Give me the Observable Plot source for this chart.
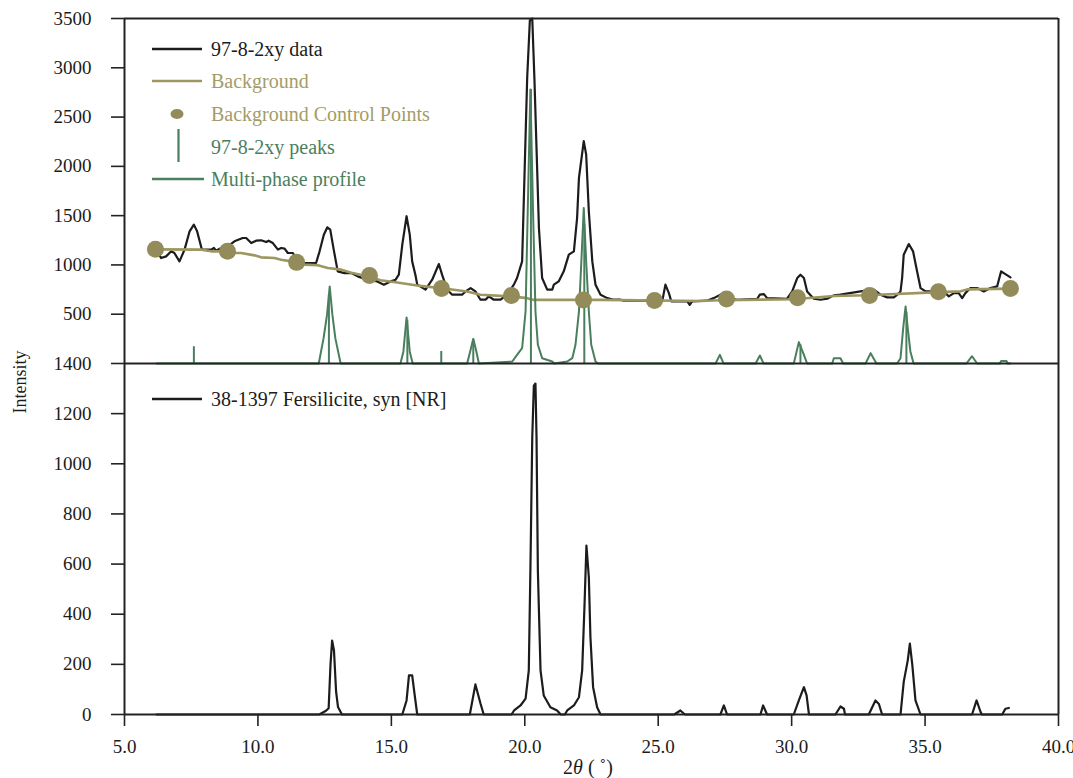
<!DOCTYPE html>
<html><head><meta charset="utf-8">
<script src="https://cdn.jsdelivr.net/npm/d3@7"></script>
<script src="https://cdn.jsdelivr.net/npm/@observablehq/plot@0.6"></script>
<style>
body{margin:0;background:#fff;}
#wrap{position:relative;width:1073px;height:778px;background:#fff;}
#wrap svg{position:absolute;left:0;top:0;overflow:visible;}
</style></head><body><div id="wrap"></div>
<script>
// ---------- data ----------
const xTicks = [5, 10, 15, 20, 25, 30, 35, 40];
const yTicksTop = [500, 1000, 1500, 2000, 2500, 3000, 3500];
const yTicksBottom = [0, 200, 400, 600, 800, 1000, 1200, 1400];

// 97-8-2xy data (observed pattern)
const dataX = [6.2,6.37,6.56,6.75,6.87,7.06,7.25,7.44,7.60,7.72,7.90,8.25,8.35,8.43,8.62,8.87,9.12,9.43,9.56,9.75,9.93,10.12,10.31,10.40,10.56,10.75,10.87,11.0,11.12,11.31,11.43,11.75,12.18,12.31,12.47,12.60,12.71,12.84,12.99,13.24,13.50,13.74,14.09,14.47,14.72,14.97,15.16,15.28,15.41,15.57,15.69,15.78,15.90,15.97,16.28,16.53,16.78,16.90,17.09,17.28,17.65,17.78,17.97,18.15,18.34,18.53,18.65,18.84,19.09,19.34,19.59,19.71,19.90,20.09,20.19,20.28,20.36,20.53,20.65,20.84,21.03,21.09,21.27,21.46,21.65,21.84,21.96,22.03,22.21,22.30,22.40,22.53,22.65,22.84,23.09,23.34,23.59,23.71,24.71,25.15,25.27,25.40,25.49,26.09,26.18,26.27,26.83,27.08,27.33,27.58,27.77,27.96,28.71,28.81,28.96,29.08,29.83,30.02,30.21,30.33,30.46,30.58,30.83,31.08,31.33,31.58,31.83,32.58,33.08,33.33,33.58,33.83,33.96,34.08,34.14,34.20,34.39,34.55,34.70,34.83,35.02,35.70,35.89,36.08,36.26,36.39,36.51,36.70,36.95,37.20,37.45,37.70,37.85,37.95,38.20];
const dataY = [1150,1070,1087,1138,1121,1036,1155,1341,1409,1341,1155,1155,1172,1145,1172,1189,1240,1273,1273,1222,1246,1250,1232,1246,1222,1155,1172,1165,1121,1121,1070,1019,1019,1138,1307,1382,1358,1155,935,917,917,884,850,833,800,833,850,901,1206,1494,1307,1036,901,800,749,850,1009,901,749,698,698,731,765,731,647,647,681,647,647,698,800,867,1036,2899,3480,3500,2899,1375,867,749,749,800,833,935,1104,1138,1476,1883,2256,2120,1544,1036,800,698,663,647,647,637,637,630,800,714,630,630,596,630,637,663,698,691,657,647,657,698,704,663,657,731,867,901,867,731,657,647,657,691,698,731,749,698,671,671,698,731,867,1104,1212,1138,935,765,731,731,681,714,714,663,714,765,765,731,765,782,935,917,874];

// Background curve
const bgX = [6.16,7.87,8.25,8.75,9.0,9.37,9.87,10.12,10.62,10.87,11.25,11.75,12.24,12.62,13.12,13.5,14.18,14.59,15.09,15.97,16.84,17.34,17.84,18.34,19.46,20.09,20.34,22.84,26.58,27.33,30.08,31.58,32.83,35.33,36.33,36.58,38.20];
const bgY = [1158,1155,1138,1138,1121,1121,1097,1077,1070,1053,1036,1003,996,968,952,920,880,845,826,792,765,749,731,698,681,663,645,645,634,642,652,685,692,722,732,752,760];

// Background control points
const cpX = [6.16,8.86,11.45,14.18,16.88,19.50,22.20,24.86,27.56,30.22,32.92,35.50,38.20];
const cpY = [1158,1138,1026,892,760,690,645,638,655,668,690,728,760];

// 97-8-2xy peaks (sticks)
const stickX = [7.60,12.66,15.60,16.87,18.07,20.23,22.23,30.33,34.30];
const stickY = [170,700,440,122,230,2780,1410,190,520];

// Multi-phase profile
const profX = [6.2,12.28,12.46,12.59,12.69,12.79,12.90,13.1,15.34,15.45,15.57,15.69,15.8,17.84,17.97,18.07,18.17,18.28,19.53,19.71,19.90,20.03,20.11,20.21,20.31,20.40,20.49,20.65,21.03,21.1,21.59,21.78,21.90,22.03,22.12,22.21,22.30,22.40,22.49,22.65,22.75,27.15,27.31,27.45,28.65,28.81,28.95,30.08,30.27,30.46,30.58,31.52,31.58,31.83,31.93,32.77,32.96,33.18,33.95,34.08,34.18,34.27,34.35,34.45,34.57,36.55,36.76,36.95,37.8,37.85,38.05,38.1,38.2];
const profY = [0,0,257,495,782,495,257,0,0,120,467,120,0,0,140,250,140,0,20,88,155,528,1544,2780,1544,528,190,54,20,0,20,54,190,528,1036,1578,1036,528,190,20,0,0,88,0,0,81,0,0,217,88,0,0,54,54,0,0,105,0,0,54,359,579,359,122,0,0,74,0,0,25,25,0,0];

// 38-1397 Fersilicite, syn [NR]
const fersX = [6.2,12.3,12.55,12.65,12.72,12.78,12.85,12.93,13.0,13.15,15.41,15.57,15.66,15.78,15.90,15.97,17.94,18.15,18.34,18.46,19.5,19.6,19.84,20.03,20.15,20.21,20.28,20.34,20.40,20.44,20.49,20.59,20.71,20.96,21.21,21.35,21.5,21.59,21.84,22.03,22.15,22.24,22.31,22.40,22.46,22.56,22.71,22.84,25.6,25.83,26.0,27.33,27.46,27.58,28.83,28.93,29.08,30.08,30.27,30.46,30.56,30.65,31.64,31.83,31.96,32.0,32.89,33.14,33.27,33.39,34.08,34.20,34.35,34.43,34.52,34.64,34.83,36.76,36.93,37.08,37.13,37.89,38.01,38.14];
const fersY = [0,0,15,25,200,295,255,90,30,0,0,56,156,156,56,0,0,120,44,0,0,16,36,63,176,574,1106,1312,1320,1106,574,176,76,29,16,0,0,16,36,69,176,442,674,548,308,109,29,0,0,16,0,0,36,0,0,36,0,0,56,109,76,0,0,32,23,0,0,56,42,0,0,130,215,283,200,56,0,0,56,10,0,0,23,26];

const legendTop = ["97-8-2xy data","Background","Background Control Points","97-8-2xy peaks","Multi-phase profile"];
const legendBottom = ["38-1397 Fersilicite, syn [NR]"];

// ---------- styles ----------
const BLACK = "#1c1c1c", OLIVE = "#9d9660", OLIVE_DOT = "#938c5a", OLIVE_TXT = "#a39c68", GREEN = "#4a7f5e", AXIS = "#222";
const FONT = '"Liberation Serif","Times New Roman",serif';
const W = 1073, H = 778;

const toRows = (xs, ys) => xs.map((x, i) => ({x, y: ys[i]}));
const data = toRows(dataX, dataY), bg = toRows(bgX, bgY), cp = toRows(cpX, cpY),
      sticks = toRows(stickX, stickY), prof = toRows(profX, profY), fers = toRows(fersX, fersY);

const common = {
  width: W, height: H, marginLeft: 124, marginRight: 15,
  style: {background: "transparent", overflow: "visible", fontFamily: FONT, fontSize: "19px", color: BLACK}
};

const topPlot = Plot.plot({
  ...common, marginTop: 18, marginBottom: H - 363,
  x: {domain: [5, 40], axis: null},
  y: {domain: [0, 3500]},
  marks: [
    Plot.axisY({ticks: yTicksTop, tickSize: 13, tickPadding: 20, tickFormat: d => String(d), label: null, stroke: AXIS, strokeWidth: 1.6, fill: BLACK}),
    Plot.line(data, {x: "x", y: "y", stroke: BLACK, strokeWidth: 2.2}),
    Plot.line(bg, {x: "x", y: "y", stroke: OLIVE, strokeWidth: 2.6}),
    Plot.line(prof, {x: "x", y: "y", stroke: GREEN, strokeWidth: 2}),
    Plot.ruleX(sticks, {x: "x", y1: 0, y2: "y", stroke: GREEN, strokeWidth: 2}),
    Plot.dot(cp, {x: "x", y: "y", r: 8.5, fill: OLIVE_DOT, stroke: "none"}),
    Plot.ruleY([3500], {stroke: AXIS, strokeWidth: 2}),
    Plot.ruleY([0], {stroke: AXIS, strokeWidth: 2}),
    Plot.ruleX([5], {stroke: AXIS, strokeWidth: 2}),
    Plot.ruleX([40], {stroke: AXIS, strokeWidth: 2})
  ]
});

const bottomPlot = Plot.plot({
  ...common, marginTop: 363, marginBottom: 64,
  x: {domain: [5, 40]},
  y: {domain: [0, 1400]},
  marks: [
    Plot.axisY({ticks: yTicksBottom, tickSize: 13, tickPadding: 20, tickFormat: d => String(d), label: null, stroke: AXIS, strokeWidth: 1.6, fill: BLACK}),
    Plot.axisX({ticks: xTicks, tickSize: 12, tickPadding: 13, tickFormat: d3.format(".1f"), label: null, stroke: AXIS, strokeWidth: 1.6, fill: BLACK}),
    Plot.line(fers, {x: "x", y: "y", stroke: BLACK, strokeWidth: 2.2}),
    Plot.ruleY([0], {stroke: AXIS, strokeWidth: 2}),
    Plot.ruleX([5], {stroke: AXIS, strokeWidth: 2}),
    Plot.ruleX([40], {stroke: AXIS, strokeWidth: 2})
  ]
});

const wrap = document.getElementById("wrap");
wrap.appendChild(topPlot);
wrap.appendChild(bottomPlot);

// ---------- legends & labels overlay ----------
const ov = d3.create("svg").attr("width", W).attr("height", H).style("font-family", FONT);
const rowY = [49, 81, 114, 147, 179];
const txtCol = [BLACK, OLIVE_TXT, OLIVE_TXT, GREEN, GREEN];
ov.append("line").attr("x1", 152).attr("x2", 202).attr("y1", rowY[0]).attr("y2", rowY[0]).attr("stroke", BLACK).attr("stroke-width", 2.4);
ov.append("line").attr("x1", 152).attr("x2", 202).attr("y1", rowY[1]).attr("y2", rowY[1]).attr("stroke", OLIVE).attr("stroke-width", 2.6);
ov.append("ellipse").attr("cx", 177).attr("cy", rowY[2]).attr("rx", 6.5).attr("ry", 5).attr("fill", OLIVE_DOT);
ov.append("line").attr("x1", 178.5).attr("x2", 178.5).attr("y1", rowY[3] - 18).attr("y2", rowY[3] + 15).attr("stroke", GREEN).attr("stroke-width", 2.2);
ov.append("line").attr("x1", 152).attr("x2", 204).attr("y1", rowY[4]).attr("y2", rowY[4]).attr("stroke", GREEN).attr("stroke-width", 2.4);
legendTop.forEach((t, i) => {
  ov.append("text").attr("x", 211).attr("y", rowY[i]).attr("dy", "0.35em").attr("font-size", 20).attr("fill", txtCol[i]).text(t);
});
ov.append("line").attr("x1", 152).attr("x2", 202).attr("y1", 399).attr("y2", 399).attr("stroke", BLACK).attr("stroke-width", 2.4);
ov.append("text").attr("x", 211).attr("y", 399).attr("dy", "0.35em").attr("font-size", 20).attr("fill", BLACK).text(legendBottom[0]);

// y label
ov.append("text").attr("transform", "translate(20,382) rotate(-90)").attr("text-anchor", "middle").attr("dy", "0.35em")
  .attr("font-size", 18).attr("fill", BLACK).text("Intensity");
// x label
const xl = ov.append("text").attr("x", 588).attr("y", 774).attr("text-anchor", "middle").attr("font-size", 20).attr("fill", BLACK);
xl.append("tspan").text("2");
xl.append("tspan").attr("font-style", "italic").text("θ");
xl.append("tspan").text(" ( ˚)");
wrap.appendChild(ov.node());
</script>
</body></html>
